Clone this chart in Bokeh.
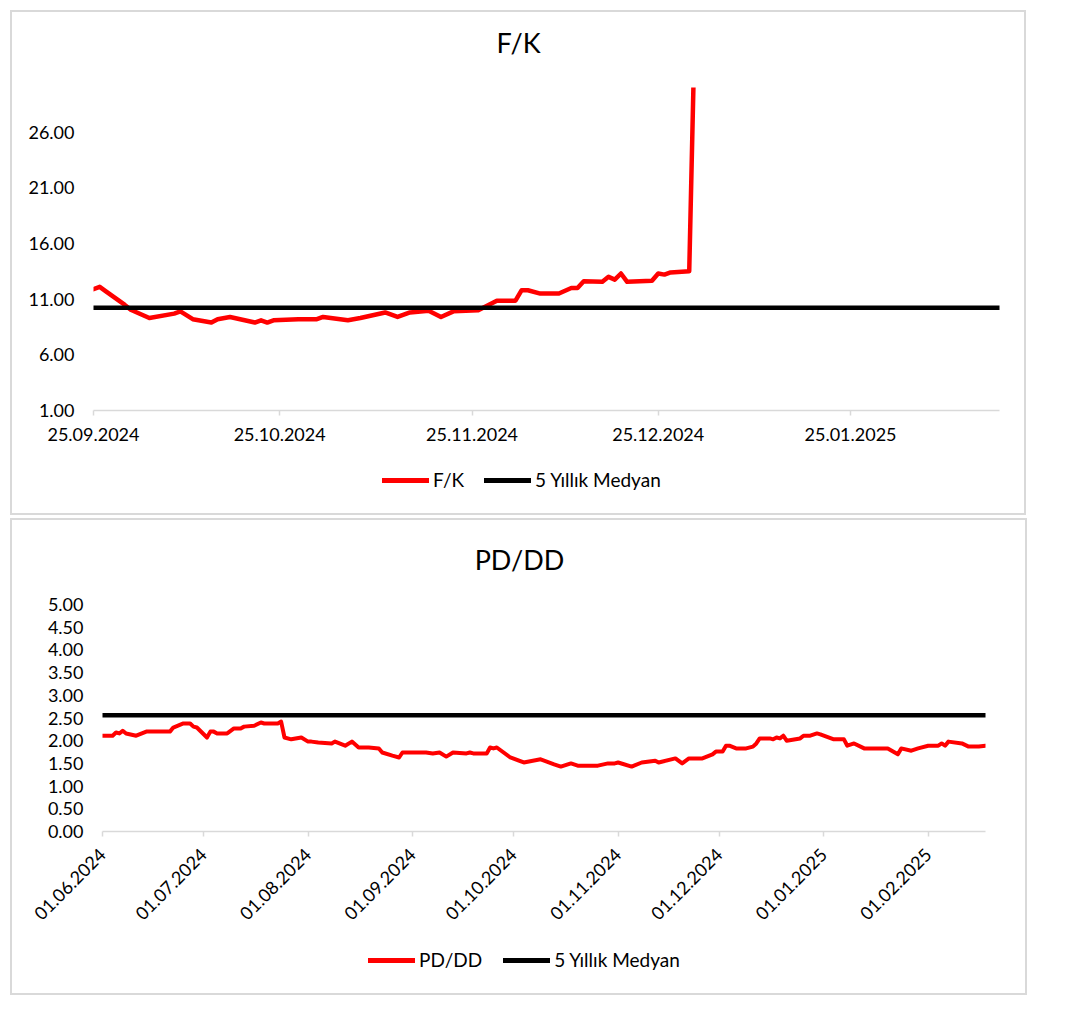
import math
import numpy as np
import pandas as pd
from bokeh.plotting import figure
from bokeh.layouts import column
from bokeh.models import (Range1d, FixedTicker, DatetimeTickFormatter, NumeralTickFormatter,
                          Legend, LegendItem, Label)
from bokeh.embed import file_html
from bokeh.resources import INLINE

# ---------------- data ----------------
fk_title = "F/K"
pd_title = "PD/DD"
median_label = "5 Yıllık Medyan"

fk_dates = ["2024-09-25", "2024-09-26", "2024-09-27", "2024-09-30", "2024-10-01", "2024-10-04",
            "2024-10-08", "2024-10-09", "2024-10-11", "2024-10-14", "2024-10-15", "2024-10-17",
            "2024-10-21", "2024-10-22", "2024-10-23", "2024-10-24", "2024-10-28", "2024-10-31",
            "2024-11-01", "2024-11-05", "2024-11-07", "2024-11-11", "2024-11-13", "2024-11-15",
            "2024-11-18", "2024-11-20", "2024-11-22", "2024-11-26", "2024-11-29", "2024-12-02",
            "2024-12-03", "2024-12-04", "2024-12-06", "2024-12-09", "2024-12-11", "2024-12-12",
            "2024-12-13", "2024-12-16", "2024-12-17", "2024-12-18", "2024-12-19", "2024-12-20",
            "2024-12-24", "2024-12-25", "2024-12-26", "2024-12-27", "2024-12-30", "2024-12-31"]
fk_values = [11.9, 12.1, 11.7, 10.5, 10.05, 9.3,
             9.7, 9.9, 9.2, 8.9, 9.2, 9.4,
             8.9, 9.1, 8.9, 9.1, 9.2, 9.2,
             9.4, 9.1, 9.3, 9.8, 9.4, 9.8,
             9.96, 9.4, 9.9, 10.0, 10.86, 10.86,
             11.8, 11.8, 11.5, 11.5, 12.0, 12.0,
             12.6, 12.55, 13.0, 12.75, 13.3, 12.55,
             12.65, 13.3, 13.2, 13.4, 13.5, 38.0]
fk_median = 10.23
fk_x_range = ["2024-09-25", "2025-02-18"]
fk_y_range = [1, 30]
fk_x_ticks = ["2024-09-25", "2024-10-25", "2024-11-25", "2024-12-25", "2025-01-25"]
fk_y_ticks = [1, 6, 11, 16, 21, 26]

pd_dates = ["2024-06-01", "2024-06-04", "2024-06-05", "2024-06-06", "2024-06-07", "2024-06-08",
            "2024-06-11", "2024-06-14", "2024-06-21", "2024-06-22", "2024-06-25", "2024-06-27",
            "2024-06-28", "2024-06-29", "2024-07-02", "2024-07-03", "2024-07-04", "2024-07-05",
            "2024-07-08", "2024-07-10", "2024-07-12", "2024-07-13", "2024-07-16", "2024-07-18",
            "2024-07-19", "2024-07-23", "2024-07-24", "2024-07-25", "2024-07-27", "2024-07-30",
            "2024-08-01", "2024-08-02", "2024-08-04", "2024-08-08", "2024-08-09", "2024-08-12",
            "2024-08-14", "2024-08-16", "2024-08-19", "2024-08-22", "2024-08-23", "2024-08-26",
            "2024-08-28", "2024-08-29", "2024-09-05", "2024-09-07", "2024-09-09", "2024-09-11",
            "2024-09-13", "2024-09-17", "2024-09-18", "2024-09-19", "2024-09-23", "2024-09-24",
            "2024-09-25", "2024-09-26", "2024-09-30", "2024-10-04", "2024-10-09", "2024-10-13",
            "2024-10-15", "2024-10-18", "2024-10-20", "2024-10-26", "2024-10-29", "2024-10-31",
            "2024-11-01", "2024-11-05", "2024-11-08", "2024-11-12", "2024-11-13", "2024-11-18",
            "2024-11-20", "2024-11-22", "2024-11-26", "2024-11-29", "2024-11-30", "2024-12-02",
            "2024-12-03", "2024-12-04", "2024-12-06", "2024-12-09", "2024-12-11", "2024-12-12",
            "2024-12-13", "2024-12-16", "2024-12-17", "2024-12-18", "2024-12-19", "2024-12-20",
            "2024-12-21", "2024-12-25", "2024-12-26", "2024-12-28", "2024-12-30", "2024-12-31",
            "2025-01-04", "2025-01-07", "2025-01-08", "2025-01-10", "2025-01-13", "2025-01-20",
            "2025-01-23", "2025-01-24", "2025-01-27", "2025-01-29", "2025-02-01", "2025-02-04",
            "2025-02-05", "2025-02-06", "2025-02-07", "2025-02-11", "2025-02-13", "2025-02-16",
            "2025-02-18"]
pd_values = [2.11, 2.11, 2.18, 2.16, 2.22, 2.16,
             2.11, 2.20, 2.20, 2.29, 2.38, 2.38,
             2.31, 2.29, 2.07, 2.20, 2.20, 2.16,
             2.16, 2.27, 2.27, 2.31, 2.33, 2.40,
             2.38, 2.38, 2.42, 2.07, 2.03, 2.07,
             1.98, 1.98, 1.96, 1.94, 1.98, 1.89,
             1.98, 1.85, 1.85, 1.83, 1.74, 1.67,
             1.63, 1.74, 1.74, 1.72, 1.74, 1.65,
             1.74, 1.72, 1.74, 1.72, 1.72, 1.85,
             1.83, 1.85, 1.63, 1.52, 1.59, 1.48,
             1.43, 1.50, 1.45, 1.45, 1.50, 1.50,
             1.52, 1.43, 1.52, 1.56, 1.52, 1.61,
             1.50, 1.61, 1.61, 1.70, 1.76, 1.76,
             1.89, 1.89, 1.83, 1.83, 1.87, 1.94,
             2.05, 2.05, 2.03, 2.07, 2.05, 2.11,
             2.00, 2.05, 2.11, 2.11, 2.16, 2.14,
             2.03, 2.03, 1.89, 1.94, 1.83, 1.83,
             1.70, 1.83, 1.78, 1.83, 1.89, 1.89,
             1.94, 1.89, 1.98, 1.94, 1.87, 1.87,
             1.89]
pd_median = 2.56
pd_x_range = ["2024-06-01", "2025-02-18"]
pd_y_range = [0, 5]
pd_x_ticks = ["2024-06-01", "2024-07-01", "2024-08-01", "2024-09-01", "2024-10-01",
              "2024-11-01", "2024-12-01", "2025-01-01", "2025-02-01"]
pd_y_ticks = [0, 0.5, 1, 1.5, 2, 2.5, 3, 3.5, 4, 4.5, 5]

FONT = "Lato"
GRAY = "#d9d9d9"
RED = "#ff0000"
BLACK = "#000000"


def ms(d):
    return pd.Timestamp(d).timestamp() * 1000.0


def bare_fig(W, H, L, R):
    f = figure(width=W, height=H, output_backend="svg", toolbar_location=None, tools="",
               x_axis_location=None, y_axis_location=None, title=None,
               x_range=Range1d(0, 1), y_range=Range1d(0, 1),
               min_border_left=L, min_border_right=R, min_border_top=0, min_border_bottom=0)
    f.background_fill_color = "white"
    f.border_fill_color = "white"
    f.outline_line_color = None
    f.grid.visible = False
    return f


def make_block(title, dates, values, median, x_rng, y_rng, x_ticks, y_ticks,
               W, L, R, head_h, title_xy, chart_h, chart_top, chart_bottom,
               leg_h, leg_loc, leg_spacing, rotate, line_w):
    # ---- title strip ----
    head = bare_fig(W, head_h, L, R)
    head.add_layout(Label(x=title_xy[0], y=title_xy[1], text=title, text_align="center",
                          text_baseline="middle", text_font=FONT, text_font_size="27px",
                          text_color=BLACK))

    # ---- chart ----
    p = figure(width=W, height=chart_h, x_axis_type="datetime", output_backend="svg",
               toolbar_location=None, tools="", title=None,
               x_range=Range1d(ms(x_rng[0]), ms(x_rng[1])),
               y_range=Range1d(y_rng[0], y_rng[1]),
               min_border_left=L, min_border_right=R,
               min_border_top=chart_top, min_border_bottom=chart_bottom)
    p.background_fill_color = "white"
    p.border_fill_color = "white"
    p.outline_line_color = None
    p.grid.visible = False

    xa = p.xaxis[0]
    xa.ticker = FixedTicker(ticks=[ms(t) for t in x_ticks])
    fmt = DatetimeTickFormatter(
        microseconds="%d.%m.%Y", milliseconds="%d.%m.%Y", seconds="%d.%m.%Y",
        minsec="%d.%m.%Y", minutes="%d.%m.%Y", hourmin="%d.%m.%Y", hours="%d.%m.%Y",
        days="%d.%m.%Y", months="%d.%m.%Y", years="%d.%m.%Y")
    if "strip_leading_zeros" in fmt.properties():
        fmt.strip_leading_zeros = False
    xa.formatter = fmt
    xa.axis_line_color = GRAY
    xa.axis_line_width = 1.5
    xa.major_tick_line_color = GRAY
    xa.major_tick_line_width = 1.5
    xa.major_tick_out = 5
    xa.major_tick_in = 0
    xa.minor_tick_line_color = None
    xa.major_label_text_font = FONT
    xa.major_label_text_color = BLACK
    xa.major_label_text_font_size = "18px"
    if rotate:
        xa.major_label_orientation = math.pi / 4
        xa.major_label_standoff = 15
    else:
        xa.major_label_standoff = 12

    ya = p.yaxis[0]
    ya.ticker = FixedTicker(ticks=y_ticks)
    ya.formatter = NumeralTickFormatter(format="0.00")
    ya.axis_line_color = None
    ya.major_tick_line_color = None
    ya.minor_tick_line_color = None
    ya.major_tick_out = 0
    ya.major_tick_in = 0
    ya.major_label_standoff = 19
    ya.major_label_text_font = FONT
    ya.major_label_text_font_size = "18px"
    ya.major_label_text_color = BLACK

    p.line(pd.to_datetime(dates), values, line_color=RED, line_width=line_w,
           line_join="round", line_cap="round")
    p.line(pd.to_datetime(x_rng), [median, median], line_color=BLACK, line_width=4.5,
           line_cap="round")

    # ---- legend strip (legend-only renderers carry no visible data) ----
    leg = bare_fig(W, leg_h, L, R)
    empty = np.array([np.nan, np.nan])
    k_main = leg.line(x=empty, y=empty, line_color=RED, line_width=5, line_cap="round")
    k_med = leg.line(x=empty, y=empty, line_color=BLACK, line_width=5, line_cap="round")
    legend = Legend(items=[LegendItem(label=title, renderers=[k_main]),
                           LegendItem(label=median_label, renderers=[k_med])],
                    orientation="horizontal", location=leg_loc, padding=0,
                    spacing=leg_spacing, glyph_width=47, glyph_height=20,
                    label_standoff=4, border_line_color=None,
                    background_fill_alpha=0, margin=0,
                    label_text_font=FONT, label_text_font_size="19px",
                    label_text_color=BLACK)
    leg.add_layout(legend)

    block = column(head, p, leg)
    block.styles = {"outline": "2px solid " + GRAY}
    return block


top = make_block(fk_title, fk_dates, fk_values, fk_median, fk_x_range, fk_y_range,
                 fk_x_ticks, fk_y_ticks,
                 W=1012, L=81, R=25, head_h=75, title_xy=((518 - 93) / 906, (87 - 42) / 75),
                 chart_h=373, chart_top=0, chart_bottom=50,
                 leg_h=53, leg_loc=(289, 22), leg_spacing=20, rotate=False, line_w=4.5)
bottom = make_block(pd_title, pd_dates, pd_values, pd_median, pd_x_range, pd_y_range,
                    pd_x_ticks, pd_y_ticks,
                    W=1013, L=90, R=40, head_h=70, title_xy=((519 - 102) / 883, (590 - 559) / 70),
                    chart_h=345, chart_top=14, chart_bottom=104,
                    leg_h=58, leg_loc=(266, 22), leg_spacing=21, rotate=True, line_w=4.0)
top.margin = (12, 0, 0, 12)
bottom.margin = (7, 0, 0, 12)

open("out.html", "w").write(file_html([top, bottom], INLINE))
